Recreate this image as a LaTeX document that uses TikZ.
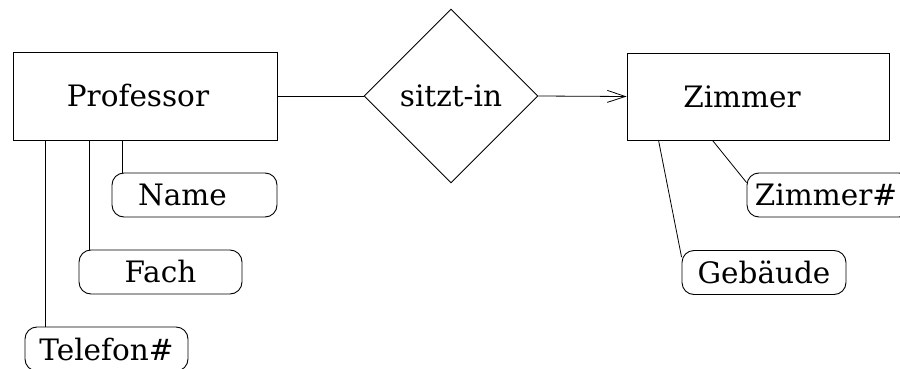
\documentclass[tikz,border=0pt]{standalone}
\usepackage{fontspec}
\setmainfont{DejaVu Serif}
\usetikzlibrary{shapes.geometric,arrows.meta}
\begin{document}
\begin{tikzpicture}[x=1pt,y=-1pt,
  every node/.style={font=\fontsize{29.5}{35}\selectfont},
  ent/.style={draw,line width=0.9pt,rectangle,inner sep=0pt},
  attr/.style={draw,line width=0.9pt,rectangle,rounded corners=12pt,inner sep=0pt,minimum height=44pt},
  rel/.style={draw,line width=0.9pt,diamond,aspect=1,inner sep=0pt,minimum size=174pt},
  conn/.style={line width=0.8pt}]
\useasboundingbox (0,0) rectangle (900,369);
\node[ent,minimum width=264pt,minimum height=88pt] (prof) at (145,96) {Professor\kern14pt};
\node[rel] (sitzt) at (451,96) {sitzt-in};
\node[ent,minimum width=262pt,minimum height=87pt] (zim) at (758,96.5) {Zimmer\kern32pt};
\node[attr,minimum width=165pt] (name) at (194.5,195) {Name\kern24pt};
\node[attr,minimum width=163pt] (fach) at (160.5,272) {Fach};
\node[attr,minimum width=163pt] (tel) at (106.5,349) {Telefon\#};
\node[attr,minimum width=164pt] (znum) at (829,195) {Zimmer\#\kern6pt};
\node[attr,minimum width=164pt] (geb) at (764,272.5) {Gebäude};
\draw[conn] (prof.east) -- (sitzt.west);
\draw[conn,-{Straight Barb[length=18pt,width=12pt,line width=0.8pt]}] (sitzt.east) -- (zim.west);
\draw[conn] ([xshift=11pt]name.north west) -- ([xshift=11pt]name.north west |- prof.south);
\draw[conn] ([xshift=11pt]fach.north west) -- ([xshift=11pt]fach.north west |- prof.south);
\draw[conn] ([xshift=21pt]tel.north west) -- ([xshift=21pt]tel.north west |- prof.south);
\draw[conn] ([xshift=32pt]zim.south west) -- ([yshift=-7pt]geb.north west);
\draw[conn] ([xshift=86pt]zim.south west) -- ([yshift=-10pt]znum.north west);
\end{tikzpicture}
\end{document}
